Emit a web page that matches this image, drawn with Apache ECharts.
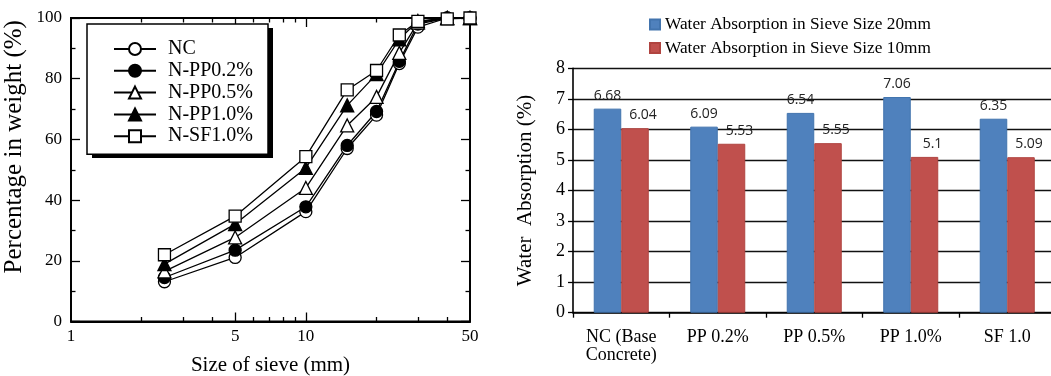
<!DOCTYPE html>
<html><head><meta charset="utf-8">
<script src="https://cdn.jsdelivr.net/npm/echarts@6/dist/echarts.min.js"></script>
<style>html,body{margin:0;padding:0;background:#fff}#c{width:1051px;height:376px;background:#fff}</style>
</head><body><div id="c"></div>
<script>
// ---- Left chart data (grading curves) ----
const sieveSizes = [2.5, 5, 10, 15, 20, 25, 30, 40, 50];
const passNC   = [13.1, 21.1, 36.2, 57.0, 68.0, 85.0, 97.0, 100, 100];
const passPP02 = [14.5, 23.5, 37.8, 58.0, 69.2, 85.7, 98.0, 100, 100];
const passPP05 = [16.5, 27.7, 44.0, 64.6, 74.0, 88.5, 98.5, 100, 100];
const passPP10 = [18.9, 32.1, 50.6, 71.2, 81.5, 93.0, 99.0, 100, 100];
const passSF10 = [22.0, 34.7, 54.3, 76.3, 82.7, 94.4, 98.9, 99.7, 100];
const lineNames = ['NC', 'N-PP0.2%', 'N-PP0.5%', 'N-PP1.0%', 'N-SF1.0%'];
const xLabelTicks = [1, 5, 10, 50];
const xMajorTicks = [5, 10];
const xMinorTicks = [2, 3, 4, 6, 7, 8, 9, 20, 30, 40];

// ---- Right chart data (water absorption) ----
const mixes = ['NC (Base\nConcrete)', 'PP 0.2%', 'PP 0.5%', 'PP 1.0%', 'SF 1.0'];
const absorb20 = [6.68, 6.09, 6.54, 7.06, 6.35];
const absorb10 = [6.04, 5.53, 5.55, 5.1, 5.09];
const barNames = ['Water Absorption in Sieve Size 20mm', 'Water Absorption in Sieve Size 10mm'];

const SERIF = 'Liberation Serif, Times New Roman, serif';
const chart = echarts.init(document.getElementById('c'), null, {renderer: 'canvas'});

const lineData = [passNC, passPP02, passPP05, passPP10, passSF10];
const symbols = ['circle', 'circle', 'triangle', 'triangle', 'rect'];
const fills = ['#fff', '#000', '#fff', '#000', '#fff'];
const sizes = [12, 12, 13, 13, 12];

const lineSeries = lineData.map((arr, i) => ({
  name: lineNames[i], type: 'line', xAxisIndex: 0, yAxisIndex: 0,
  data: sieveSizes.map((s, k) => [s, arr[k]]),
  symbol: symbols[i], symbolSize: sizes[i], showAllSymbol: true,
  lineStyle: {color: '#000', width: 1.3},
  itemStyle: {color: fills[i], borderColor: '#000', borderWidth: 1.3},
  emphasis: {disabled: true}, animation: false, z: 5
}));

function logAxis(pos, ticks, len, showLine, showLabel) {
  const a = {
    type: 'log', logBase: 10, gridIndex: 0, position: pos, min: 1, max: 50,
    axisLine: {show: showLine, onZero: false, lineStyle: {color: '#000', width: 1.8}},
    axisTick: {show: true, inside: true, length: len, customValues: ticks, lineStyle: {color: '#000', width: 1.3}},
    axisLabel: showLabel ? {show: true, customValues: xLabelTicks, color: '#000', fontFamily: SERIF, fontSize: 17, margin: 7} : {show: false},
    splitLine: {show: false}, minorTick: {show: false}, minorSplitLine: {show: false}
  };
  if (showLabel) {
    a.name = 'Size of sieve (mm)'; a.nameLocation = 'middle'; a.nameGap = 33;
    a.nameTextStyle = {color: '#000', fontFamily: SERIF, fontSize: 21};
  }
  return a;
}
function pctAxis(pos, showLabel) {
  const a = {
    type: 'value', gridIndex: 0, position: pos, min: 0, max: 100, interval: 20,
    axisLine: {show: true, onZero: false, lineStyle: {color: '#000', width: 1.8}},
    axisTick: {show: true, inside: true, length: 9, lineStyle: {color: '#000', width: 1.3}},
    minorTick: {show: true, splitNumber: 2, length: 4.5, lineStyle: {color: '#000', width: 1.3}},
    axisLabel: {show: showLabel, color: '#000', fontFamily: SERIF, fontSize: 17, margin: 9},
    splitLine: {show: false}
  };
  if (showLabel) {
    a.name = 'Percentage in weight (%)'; a.nameLocation = 'middle'; a.nameGap = 44;
    a.nameTextStyle = {color: '#000', fontFamily: SERIF, fontSize: 25, padding: [0, 0, 0, 46]};
  }
  return a;
}

const option = {
  animation: false,
  grid: [
    {left: 71, top: 18, width: 399, height: 303.5, containLabel: false, outerBoundsMode: 'none',
     show: true, borderColor: '#000', borderWidth: 1.8, backgroundColor: 'transparent'},
    {left: 573, top: 68.3, width: 482.5, height: 244.4, containLabel: false, outerBoundsMode: 'none'}
  ],
  graphic: [
    {type: 'rect', z: 3, silent: true, shape: {x: 92, y: 28, width: 181, height: 130}, style: {fill: '#000'}}
  ],
  legend: [
    {
      data: lineNames, orient: 'vertical', left: 87, top: 24, z: 4,
      itemWidth: 42, itemHeight: 15, itemGap: 1.8,
      padding: [15, 15, 8, 26],
      backgroundColor: '#fff', borderColor: '#000', borderWidth: 1.5,
      textStyle: {color: '#000', fontFamily: SERIF, fontSize: 20, padding: [0, 0, 0, 7]},
      selectedMode: false
    },
    {
      data: barNames, orient: 'vertical', left: 649, top: 16,
      icon: 'rect', itemWidth: 10, itemHeight: 10, itemGap: 6.5, padding: 0,
      textStyle: {color: '#000', fontFamily: SERIF, fontSize: 17.3},
      selectedMode: false
    }
  ],
  xAxis: [
    logAxis('bottom', xMajorTicks, 9, true, true),
    logAxis('bottom', xMinorTicks, 4.5, false, false),
    logAxis('top', xMajorTicks, 9, true, false),
    logAxis('top', xMinorTicks, 4.5, false, false),
    {
      type: 'category', gridIndex: 1, data: mixes,
      axisLine: {onZero: false, lineStyle: {color: '#000', width: 1.6}},
      axisTick: {show: true, inside: false, length: 5, lineStyle: {color: '#000', width: 1.3}},
      axisLabel: {color: '#000', fontFamily: SERIF, fontSize: 18, lineHeight: 18, margin: 16, interval: 0},
      splitLine: {show: false}
    }
  ],
  yAxis: [
    pctAxis('left', true),
    pctAxis('right', false),
    {
      type: 'value', gridIndex: 1, min: 0, max: 8, interval: 1,
      axisLine: {show: true, onZero: false, lineStyle: {color: '#000', width: 1.6}},
      axisTick: {show: true, inside: false, length: 5, lineStyle: {color: '#000', width: 1.3}},
      axisLabel: {color: '#000', fontFamily: SERIF, fontSize: 18, margin: 8},
      splitLine: {show: true, lineStyle: {color: '#111', width: 1.4}},
      name: 'Water  Absorption (%)', nameLocation: 'middle', nameGap: 37,
      nameTextStyle: {color: '#000', fontFamily: SERIF, fontSize: 21}
    }
  ],
  series: lineSeries.concat([
    {
      name: barNames[0], type: 'bar', xAxisIndex: 4, yAxisIndex: 2, data: absorb20,
      barWidth: '28.5%', barGap: '0%',
      itemStyle: {color: '#4F81BD', borderColor: '#4274AE', borderWidth: 1},
      label: {show: true, position: 'top', distance: 6, color: '#222', fontFamily: 'Open Sans', fontSize: 14},
      emphasis: {disabled: true}
    },
    {
      name: barNames[1], type: 'bar', xAxisIndex: 4, yAxisIndex: 2, data: absorb10,
      barWidth: '28.5%', barGap: '0%',
      itemStyle: {color: '#C0504D', borderColor: '#B04440', borderWidth: 1},
      label: {show: true, position: 'top', distance: 6, offset: [8, 0], color: '#222', fontFamily: 'Open Sans', fontSize: 14},
      emphasis: {disabled: true}
    }
  ])
};
chart.setOption(option);
</script>
</body></html>
